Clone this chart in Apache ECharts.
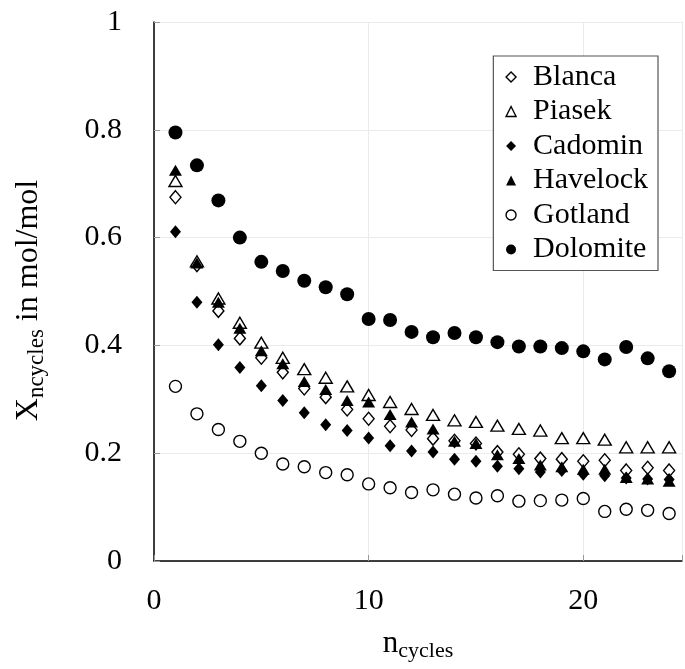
<!DOCTYPE html>
<html>
<head>
<meta charset="utf-8">
<script src="https://cdn.jsdelivr.net/npm/echarts@6/dist/echarts.min.js"></script>
<style>html,body{margin:0;padding:0;background:#fff}#c{width:685px;height:669px}</style>
</head>
<body>
<div id="c"></div>
<script>
const cycles = [1,2,3,4,5,6,7,8,9,10,11,12,13,14,15,16,17,18,19,20,21,22,23,24];
const blanca   = [0.675,0.549,0.464,0.413,0.377,0.350,0.320,0.304,0.281,0.264,0.250,0.243,0.227,0.223,0.218,0.202,0.198,0.190,0.189,0.185,0.187,0.168,0.173,0.168];
const piasek   = [0.705,0.556,0.487,0.442,0.405,0.377,0.356,0.340,0.324,0.308,0.295,0.282,0.271,0.261,0.258,0.251,0.245,0.242,0.228,0.228,0.225,0.211,0.211,0.211];
const cadomin  = [0.611,0.480,0.401,0.359,0.325,0.298,0.275,0.253,0.242,0.228,0.214,0.204,0.202,0.189,0.185,0.176,0.171,0.165,0.168,0.161,0.158,0.154,0.152,0.151];
const havelock = [0.725,0.553,0.480,0.432,0.390,0.366,0.333,0.318,0.298,0.295,0.272,0.258,0.245,0.222,0.218,0.197,0.190,0.178,0.175,0.170,0.170,0.155,0.152,0.148];
const gotland  = [0.324,0.273,0.244,0.222,0.200,0.180,0.175,0.164,0.160,0.143,0.136,0.127,0.132,0.124,0.117,0.121,0.111,0.112,0.113,0.116,0.092,0.096,0.094,0.088];
const dolomite = [0.795,0.734,0.669,0.600,0.555,0.538,0.520,0.508,0.495,0.449,0.447,0.425,0.415,0.423,0.415,0.406,0.398,0.398,0.395,0.389,0.374,0.397,0.376,0.352];
const yTicks = [0, 0.2, 0.4, 0.6, 0.8, 1];
const xTicks = [0, 10, 20];

const FONT = 'Liberation Serif';
const pair = arr => arr.map((v, i) => [cycles[i], v]);

const open = { color: '#fff', borderColor: '#000', borderWidth: 1.4, opacity: 1 };
const filled = { color: '#000', borderColor: '#000', borderWidth: 0, opacity: 1 };

function mk(name, data, symbol, size, style) {
  return { name, type: 'scatter', data: pair(data), symbol, symbolSize: size,
    itemStyle: style, emphasis: { disabled: true }, animation: false };
}

const chart = echarts.init(document.getElementById('c'), null, { renderer: 'canvas' });
chart.setOption({
  animation: false,
  backgroundColor: '#fff',
  grid: { left: 154, top: 22, right: 0, bottom: 108, containLabel: false },
  legend: {
    right: 27, top: 56,
    orient: 'vertical',
    backgroundColor: '#fff',
    borderColor: '#555', borderWidth: 1.2,
    padding: [6, 10, 6, 12],
    itemWidth: 10, itemHeight: 10, itemGap: 4.5,
    textStyle: { fontFamily: FONT, fontSize: 30, color: '#000', padding: [0, 0, 0, 12], lineHeight: 30 },
    data: [
      { name: 'Blanca', icon: 'diamond', itemStyle: open },
      { name: 'Piasek', icon: 'triangle', itemStyle: open },
      { name: 'Cadomin', icon: 'diamond', itemStyle: filled },
      { name: 'Havelock', icon: 'triangle', itemStyle: filled },
      { name: 'Gotland', icon: 'circle', itemStyle: open },
      { name: 'Dolomite', icon: 'circle', itemStyle: filled }
    ]
  },
  xAxis: {
    type: 'value', min: 0, max: 24.6, interval: 10,
    name: '{m|n}{s|cycles}', nameLocation: 'middle', nameGap: 64,
    nameTextStyle: { rich: {
      m: { fontFamily: FONT, fontSize: 31, color: '#000' },
      s: { fontFamily: FONT, fontSize: 22, color: '#000', padding: [15, 0, 0, 0] }
    } },
    axisLine: { lineStyle: { color: '#000', width: 1.5 } },
    axisTick: { inside: true, length: 6, lineStyle: { color: '#999' } },
    axisLabel: { fontFamily: FONT, fontSize: 30, color: '#000', margin: 25,
      formatter: v => xTicks.includes(v) ? String(v) : '' },
    splitLine: { show: true, lineStyle: { color: '#ebebeb', width: 1 } }
  },
  yAxis: {
    type: 'value', min: 0, max: 1, interval: 0.2,
    name: '{m|X}{s|ncycles}{m| in mol/mol}', nameLocation: 'middle', nameGap: 106,
    nameTextStyle: { padding: [0, 0, 0, -18], rich: {
      m: { fontFamily: FONT, fontSize: 32, color: '#000' },
      s: { fontFamily: FONT, fontSize: 23, color: '#000', padding: [16, 0, 0, 0] }
    } },
    axisLine: { lineStyle: { color: '#000', width: 1.5 } },
    axisTick: { inside: true, length: 6, lineStyle: { color: '#999' } },
    axisLabel: { fontFamily: FONT, fontSize: 30, color: '#000', margin: 32,
      formatter: v => yTicks.some(t => Math.abs(t - v) < 1e-9) ? String(+v.toFixed(1)) : '' },
    splitLine: { show: true, lineStyle: { color: '#ebebeb', width: 1 } }
  },
  series: [
    mk('Blanca', blanca, 'diamond', [11, 13], open),
    mk('Piasek', piasek, 'triangle', [13, 11], open),
    mk('Cadomin', cadomin, 'diamond', [11, 13], filled),
    mk('Havelock', havelock, 'triangle', [13, 11], filled),
    mk('Gotland', gotland, 'circle', 12, open),
    mk('Dolomite', dolomite, 'circle', 14, filled)
  ]
});
</script>
</body>
</html>
